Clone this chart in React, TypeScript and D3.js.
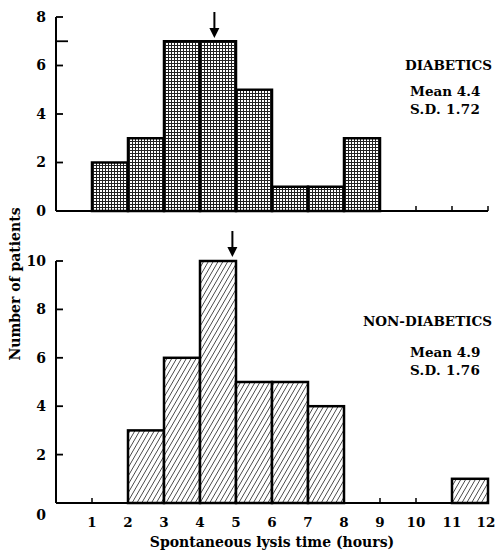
import * as d3 from "d3";

// histogram bins: hour start of each 1-hour bin
const binStarts = [0, 1, 2, 3, 4, 5, 6, 7, 8, 9, 10, 11];
const diabetics = [0, 2, 3, 7, 7, 5, 1, 1, 3, 0, 0, 0];
const nonDiabetics = [0, 0, 3, 6, 10, 5, 5, 4, 0, 0, 0, 1];
const xTicks = [1, 2, 3, 4, 5, 6, 7, 8, 9, 10, 11, 12];
const topYTicks = [0, 2, 4, 6, 8];
const bottomYTicks = [2, 4, 6, 8, 10];
const diabeticStats = { title: "DIABETICS", mean: 4.4, sd: "1.72" };
const nonDiabeticStats = { title: "NON-DIABETICS", mean: 4.9, sd: "1.76" };

const font = "'DejaVu Serif', 'Liberation Serif', serif";

export default function App() {
  const width = 496;
  const height = 550;
  const left = 56;
  const right = 488;

  const x = d3.scaleLinear().domain([0, 12]).range([left, right]);
  const yTop = d3.scaleLinear().domain([0, 8]).range([211, 17]);
  const yBot = d3.scaleLinear().domain([0, 10]).range([503, 261]);

  const tickLen = 7;

  return (
    <svg
      width={width}
      height={height}
      style={{ position: "absolute", left: 0, top: 0, background: "#fff" }}
      fontFamily={font}
      fontWeight="bold"
    >
      <defs>
        <pattern id="dots" width="3" height="3" patternUnits="userSpaceOnUse">
          <rect width="3" height="3" fill="#fff" />
          <rect width="3" height="1" fill="#222" />
          <rect width="1" height="3" fill="#222" />
        </pattern>
        <pattern
          id="hatch"
          width="4.2"
          height="4.2"
          patternUnits="userSpaceOnUse"
          patternTransform="rotate(30)"
        >
          <rect width="4.2" height="4.2" fill="#fff" />
          <line x1="0" y1="0" x2="0" y2="4.2" stroke="#111" strokeWidth="1.3" />
        </pattern>
      </defs>

      {/* top panel: diabetics */}
      {binStarts.map((b, i) =>
        diabetics[i] > 0 ? (
          <rect
            key={`d-${b}`}
            x={x(b)}
            y={yTop(diabetics[i])}
            width={x(b + 1) - x(b)}
            height={yTop(0) - yTop(diabetics[i])}
            fill="url(#dots)"
            stroke="#000"
            strokeWidth="2.5"
          />
        ) : null
      )}
      <line x1={left} y1={yTop(8)} x2={left} y2={yTop(0)} stroke="#000" strokeWidth="2" />
      <line x1={left} y1={yTop(0)} x2={right} y2={yTop(0)} stroke="#000" strokeWidth="2" />
      {topYTicks.map((t) => (
        <g key={`ty-${t}`} transform={`translate(${left}, ${yTop(t)})`}>
          {t > 0 && <line x1="0" y1="0" x2={tickLen} y2="0" stroke="#000" strokeWidth="1.8" />}
          <text x="-10" dy="0.35em" textAnchor="end" fontSize="14">
            {t}
          </text>
        </g>
      ))}
      <line x1={left} y1={yTop(7)} x2={left + 12} y2={yTop(7)} stroke="#000" strokeWidth="1.8" />
      {[10, 11, 12].map((t) => (
        <line key={`tx-${t}`} x1={x(t)} y1={yTop(0)} x2={x(t)} y2={yTop(0) - 5} stroke="#000" strokeWidth="1.5" />
      ))}
      <Arrow x={x(diabeticStats.mean)} y0={12} y1={38} />
      <text x={492} y={70} textAnchor="end" fontSize="13.5">
        {diabeticStats.title}
      </text>
      <text x={410} y={96} fontSize="13.5">
        Mean {diabeticStats.mean}
      </text>
      <text x={410} y={114} fontSize="13.5" letterSpacing="0.3">
        S.D. {diabeticStats.sd}
      </text>

      {/* bottom panel: non-diabetics */}
      {binStarts.map((b, i) =>
        nonDiabetics[i] > 0 ? (
          <rect
            key={`n-${b}`}
            x={x(b)}
            y={yBot(nonDiabetics[i])}
            width={x(b + 1) - x(b)}
            height={yBot(0) - yBot(nonDiabetics[i])}
            fill="url(#hatch)"
            stroke="#000"
            strokeWidth="2.5"
          />
        ) : null
      )}
      <line x1={left} y1={yBot(10)} x2={left} y2={yBot(0)} stroke="#000" strokeWidth="2" />
      <line x1={left} y1={yBot(0)} x2={right} y2={yBot(0)} stroke="#000" strokeWidth="2" />
      {bottomYTicks.map((t) => (
        <g key={`by-${t}`} transform={`translate(${left}, ${yBot(t)})`}>
          <line x1="0" y1="0" x2={tickLen} y2="0" stroke="#000" strokeWidth="1.8" />
          <text x="-10" dy="0.35em" textAnchor="end" fontSize="14">
            {t}
          </text>
        </g>
      ))}
      {[1, 9, 10].map((t) => (
        <line key={`bx-${t}`} x1={x(t)} y1={yBot(0)} x2={x(t)} y2={yBot(0) - 5} stroke="#000" strokeWidth="1.5" />
      ))}
      <text x={left - 10} y={520} textAnchor="end" fontSize="14">
        0
      </text>
      {xTicks.map((t) => (
        <text
          key={`xl-${t}`}
          x={x(t)}
          dx={t === 12 ? -2 : 0}
          y={527}
          textAnchor="middle"
          fontSize="13.5"
        >
          {t}
        </text>
      ))}
      <Arrow x={x(nonDiabeticStats.mean)} y0={231} y1={257} />
      <text x={492} y={326} textAnchor="end" fontSize="13.5">
        {nonDiabeticStats.title}
      </text>
      <text x={410} y={357} fontSize="13.5">
        Mean {nonDiabeticStats.mean}
      </text>
      <text x={410} y={375} fontSize="13.5" letterSpacing="0.3">
        S.D. {nonDiabeticStats.sd}
      </text>

      {/* axis titles */}
      <text x={(left + right) / 2} y={547} textAnchor="middle" fontSize="14">
        Spontaneous lysis time (hours)
      </text>
      <text
        transform={`translate(20, 284) rotate(-90)`}
        textAnchor="middle"
        fontSize="14"
      >
        Number of patients
      </text>
    </svg>
  );
}

function Arrow({ x, y0, y1 }: { x: number; y0: number; y1: number }) {
  return (
    <g>
      <line x1={x} y1={y0} x2={x} y2={y1 - 8} stroke="#000" strokeWidth="2" />
      <path d={`M${x - 5},${y1 - 10} L${x + 5},${y1 - 10} L${x},${y1} Z`} fill="#000" />
    </g>
  );
}
